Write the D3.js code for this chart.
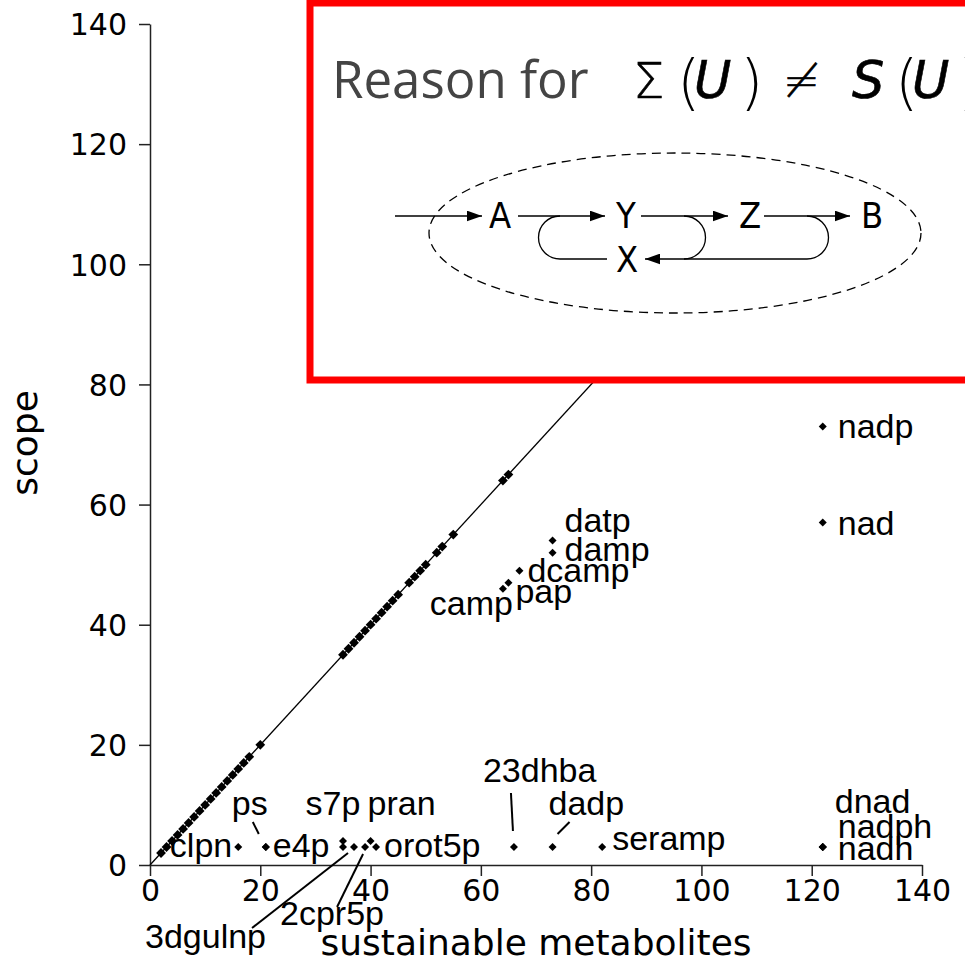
<!DOCTYPE html>
<html>
<head>
<meta charset="utf-8">
<script src="https://cdn.jsdelivr.net/npm/d3@7"></script>
<style>
  body { margin: 0; background: #fff; }
  svg { display: block; }
</style>
</head>
<body>
<svg id="chart" width="965" height="962"></svg>
<script>
// metabolites where scope == sustainable count
const diagSust  = [2, 3, 4, 5, 6, 7, 8, 9, 10, 11, 12, 13, 14, 15, 16, 17, 18, 20,
                   35, 36, 37, 38, 39, 40, 41, 42, 43, 44, 45, 47, 48, 49, 50, 52, 53, 55, 64, 65];
const diagScope = [2, 3, 4, 5, 6, 7, 8, 9, 10, 11, 12, 13, 14, 15, 16, 17, 18, 20,
                   35, 36, 37, 38, 39, 40, 41, 42, 43, 44, 45, 47, 48, 49, 50, 52, 53, 55, 64, 65];

// labelled metabolites off the diagonal
const offNames = ["nadp", "nad", "datp", "damp", "dcamp", "pap", "camp",
                  "clpn", "ps", "e4p", "s7p", "", "3dgulnp", "2cpr5p", "pran", "orot5p",
                  "23dhba", "dadp", "seramp", "dnad", "nadph", "nadh"];
const offSust  = [122, 122, 73, 73, 67, 65, 64, 16, 21, 21, 35, 35, 37, 39, 40, 41, 66, 73, 82, 122, 122, 122];
const offScope = [73, 57, 54, 52, 49, 47, 46, 3, 3, 3, 4, 3, 3, 3, 4, 3, 3, 3, 3, 3, 3, 3];

const xTicks = [0, 20, 40, 60, 80, 100, 120, 140];
const yTicks = [0, 20, 40, 60, 80, 100, 120, 140];

// label offsets from the marker (px), optional leader line
const labelLayout = {
  nadp:    { dx: 15, dy: 12 },
  nad:     { dx: 15, dy: 12 },
  datp:    { dx: 12, dy: -9 },
  damp:    { dx: 12, dy: 8 },
  dcamp:   { dx: 8, dy: 11 },
  pap:     { dx: 7, dy: 20 },
  camp:    { dx: 10, dy: 26, anchor: "end" },
  clpn:    { dx: -6, dy: 10, anchor: "end" },
  ps:      { dx: -16, dy: -32, anchor: "middle", leader: [-13, -25, -7, -13] },
  e4p:     { dx: 7, dy: 10 },
  s7p:     { dx: -10, dy: -26, anchor: "middle" },
  "3dgulnp": { dx: -209, dy: 101, leader: [-102, 81, -6, 6] },
  "2cpr5p":  { dx: -85, dy: 78, leader: [-28, 60, -2, 7] },
  pran:    { dx: -3, dy: -26 },
  orot5p:  { dx: 8, dy: 10 },
  "23dhba": { dx: -31, dy: -65, leader: [-3, -54, -1, -16] },
  dadp:    { dx: -4, dy: -32, leader: [17, -25, 5, -13] },
  seramp:  { dx: 10, dy: 3 },
  dnad:    { dx: 12, dy: -34 },
  nadph:   { dx: 15, dy: -9 },
  nadh:    { dx: 15, dy: 13 }
};

const svg = d3.select("#chart");
const x = d3.scaleLinear().domain([0, 140]).range([150, 922]);
const y = d3.scaleLinear().domain([0, 140]).range([865, 24]);

const tickFont = "'DejaVu Sans', sans-serif";
const labelFont = "'Liberation Sans', Arial, sans-serif";

// axes
const xAxis = svg.append("g")
  .attr("transform", `translate(0,${y(0)})`)
  .call(d3.axisBottom(x).tickValues(xTicks).tickSize(11).tickSizeOuter(0).tickPadding(4));
const yAxis = svg.append("g")
  .attr("transform", `translate(${x(0)},0)`)
  .call(d3.axisLeft(y).tickValues(yTicks).tickSize(11).tickSizeOuter(0).tickPadding(12));

[xAxis, yAxis].forEach(g => {
  g.select(".domain").attr("stroke", "#222").attr("stroke-width", 1.5);
  g.selectAll(".tick line").attr("stroke", "#222").attr("stroke-width", 1.5);
  g.selectAll(".tick text")
    .attr("fill", "#000")
    .style("font-family", tickFont)
    .style("font-size", "30px");
});
yAxis.selectAll(".tick text").attr("dy", "0.36em");

svg.append("text")
  .attr("x", 536)
  .attr("y", 955)
  .attr("text-anchor", "middle")
  .style("font-family", tickFont)
  .style("font-size", "36px")
  .text("sustainable metabolites");

svg.append("text")
  .attr("transform", "translate(37,443) rotate(-90)")
  .attr("text-anchor", "middle")
  .style("font-family", tickFont)
  .style("font-size", "36px")
  .text("scope");

// y = x reference line
svg.append("line")
  .attr("x1", x(0)).attr("y1", y(0))
  .attr("x2", x(140)).attr("y2", y(140))
  .attr("stroke", "#000")
  .attr("stroke-width", 1.3);

svg.append("g")
  .selectAll("path")
  .data(diagSust.map((s, i) => ({ s, c: diagScope[i] })))
  .join("path")
  .attr("d", d3.symbol(d3.symbolSquare, 48))
  .attr("transform", d => `translate(${x(d.s)},${y(d.c)}) rotate(45)`)
  .attr("fill", "#000");

const offData = offNames.map((n, i) => ({ n, s: offSust[i], c: offScope[i] }));

svg.append("g")
  .selectAll("path")
  .data(offData)
  .join("path")
  .attr("d", d3.symbol(d3.symbolSquare, 32))
  .attr("transform", d => `translate(${x(d.s)},${y(d.c)}) rotate(45)`)
  .attr("fill", "#000");

// labels and leader lines
offData.filter(d => d.n && labelLayout[d.n]).forEach(d => {
  const L = labelLayout[d.n];
  const px = x(d.s), py = y(d.c);
  if (L.leader) {
    svg.append("line")
      .attr("x1", px + L.leader[0]).attr("y1", py + L.leader[1])
      .attr("x2", px + L.leader[2]).attr("y2", py + L.leader[3])
      .attr("stroke", "#000")
      .attr("stroke-width", 2);
  }
  svg.append("text")
    .attr("x", px + L.dx)
    .attr("y", py + L.dy)
    .attr("text-anchor", L.anchor || "start")
    .style("font-family", labelFont)
    .style("font-size", "34px")
    .text(d.n);
});

// inset box
const inset = svg.append("g");
inset.append("rect")
  .attr("x", 310).attr("y", 3)
  .attr("width", 700).attr("height", 377)
  .attr("fill", "#fff")
  .attr("stroke", "#ff0000")
  .attr("stroke-width", 7);

inset.append("text")
  .attr("x", 332).attr("y", 98)
  .attr("fill", "#444")
  .style("font-family", "'Open Sans', sans-serif")
  .style("font-size", "51px")
  .text("Reason for");

const mathGlyphs = [
  { t: "\u03A3", x: 633, size: 50, weight: 200, style: "normal", dy: 0, sw: 0.6 },
  { t: "(", x: 677, size: 60, weight: 200, style: "normal", dy: 5, sw: 0 },
  { t: "U", x: 694, size: 51, weight: "normal", style: "oblique", dy: 0, sw: 0.6 },
  { t: ")", x: 740, size: 60, weight: 200, style: "normal", dy: 5, sw: 0 },
  { t: "\u2260", x: 783, size: 44, weight: 200, style: "normal", dy: -2, sw: 0.6 },
  { t: "S", x: 852, size: 51, weight: "normal", style: "oblique", dy: 0, sw: 0.6 },
  { t: "(", x: 895, size: 60, weight: 200, style: "normal", dy: 5, sw: 0 },
  { t: "U", x: 912, size: 51, weight: "normal", style: "oblique", dy: 0, sw: 0.6 },
  { t: ")", x: 958, size: 60, weight: 200, style: "normal", dy: 5, sw: 0 }
];
inset.selectAll("text.math")
  .data(mathGlyphs)
  .join("text")
  .attr("class", "math")
  .attr("x", d => d.x)
  .attr("y", d => 98 + d.dy)
  .attr("stroke", d => d.sw ? "#000" : null)
  .attr("stroke-width", d => d.sw || null)
  .style("font-family", "'DejaVu Sans', sans-serif")
  .style("font-size", d => d.size + "px")
  .style("font-weight", d => d.weight)
  .style("font-style", d => d.style)
  .text(d => d.t);

// reaction diagram
svg.append("defs").append("marker")
  .attr("id", "arrow")
  .attr("markerUnits", "userSpaceOnUse")
  .attr("viewBox", "0 0 14 10")
  .attr("markerWidth", 15).attr("markerHeight", 11)
  .attr("refX", 14).attr("refY", 5)
  .attr("orient", "auto")
  .append("path")
  .attr("d", "M0,0 L14,5 L0,10 Z")
  .attr("fill", "#000");

inset.append("ellipse")
  .attr("cx", 675).attr("cy", 233)
  .attr("rx", 246).attr("ry", 80)
  .attr("fill", "none")
  .attr("stroke", "#000")
  .attr("stroke-width", 1.3)
  .attr("stroke-dasharray", "9,6");

const arrowRow = [[395, 482], [518, 605], [641, 728], [764, 850]];
arrowRow.forEach(a => {
  inset.append("line")
    .attr("x1", a[0]).attr("y1", 216)
    .attr("x2", a[1]).attr("y2", 216)
    .attr("stroke", "#000").attr("stroke-width", 1.3)
    .attr("marker-end", "url(#arrow)");
});

const loops = [
  { d: "M560,216 A21.5,21.5 0 0 0 560,259 L607,259", arrow: false },
  { d: "M684,216 A21.5,21.5 0 0 1 684,259", arrow: false },
  { d: "M807,216 A21.5,21.5 0 0 1 807,259 L645,259", arrow: true }
];
loops.forEach(l => {
  inset.append("path")
    .attr("d", l.d)
    .attr("fill", "none")
    .attr("stroke", "#000").attr("stroke-width", 1.3)
    .attr("marker-end", l.arrow ? "url(#arrow)" : null);
});

const nodes = [
  { t: "A", x: 500, y: 228 },
  { t: "Y", x: 626, y: 228 },
  { t: "Z", x: 750, y: 228 },
  { t: "B", x: 872, y: 228 },
  { t: "X", x: 627, y: 272 }
];
inset.selectAll("text.node")
  .data(nodes)
  .join("text")
  .attr("class", "node")
  .attr("x", d => d.x).attr("y", d => d.y)
  .attr("text-anchor", "middle")
  .style("font-family", "'DejaVu Sans Condensed', 'DejaVu Sans', sans-serif")
  .style("font-stretch", "condensed")
  .style("font-size", "36px")
  .text(d => d.t);
</script>
</body>
</html>
